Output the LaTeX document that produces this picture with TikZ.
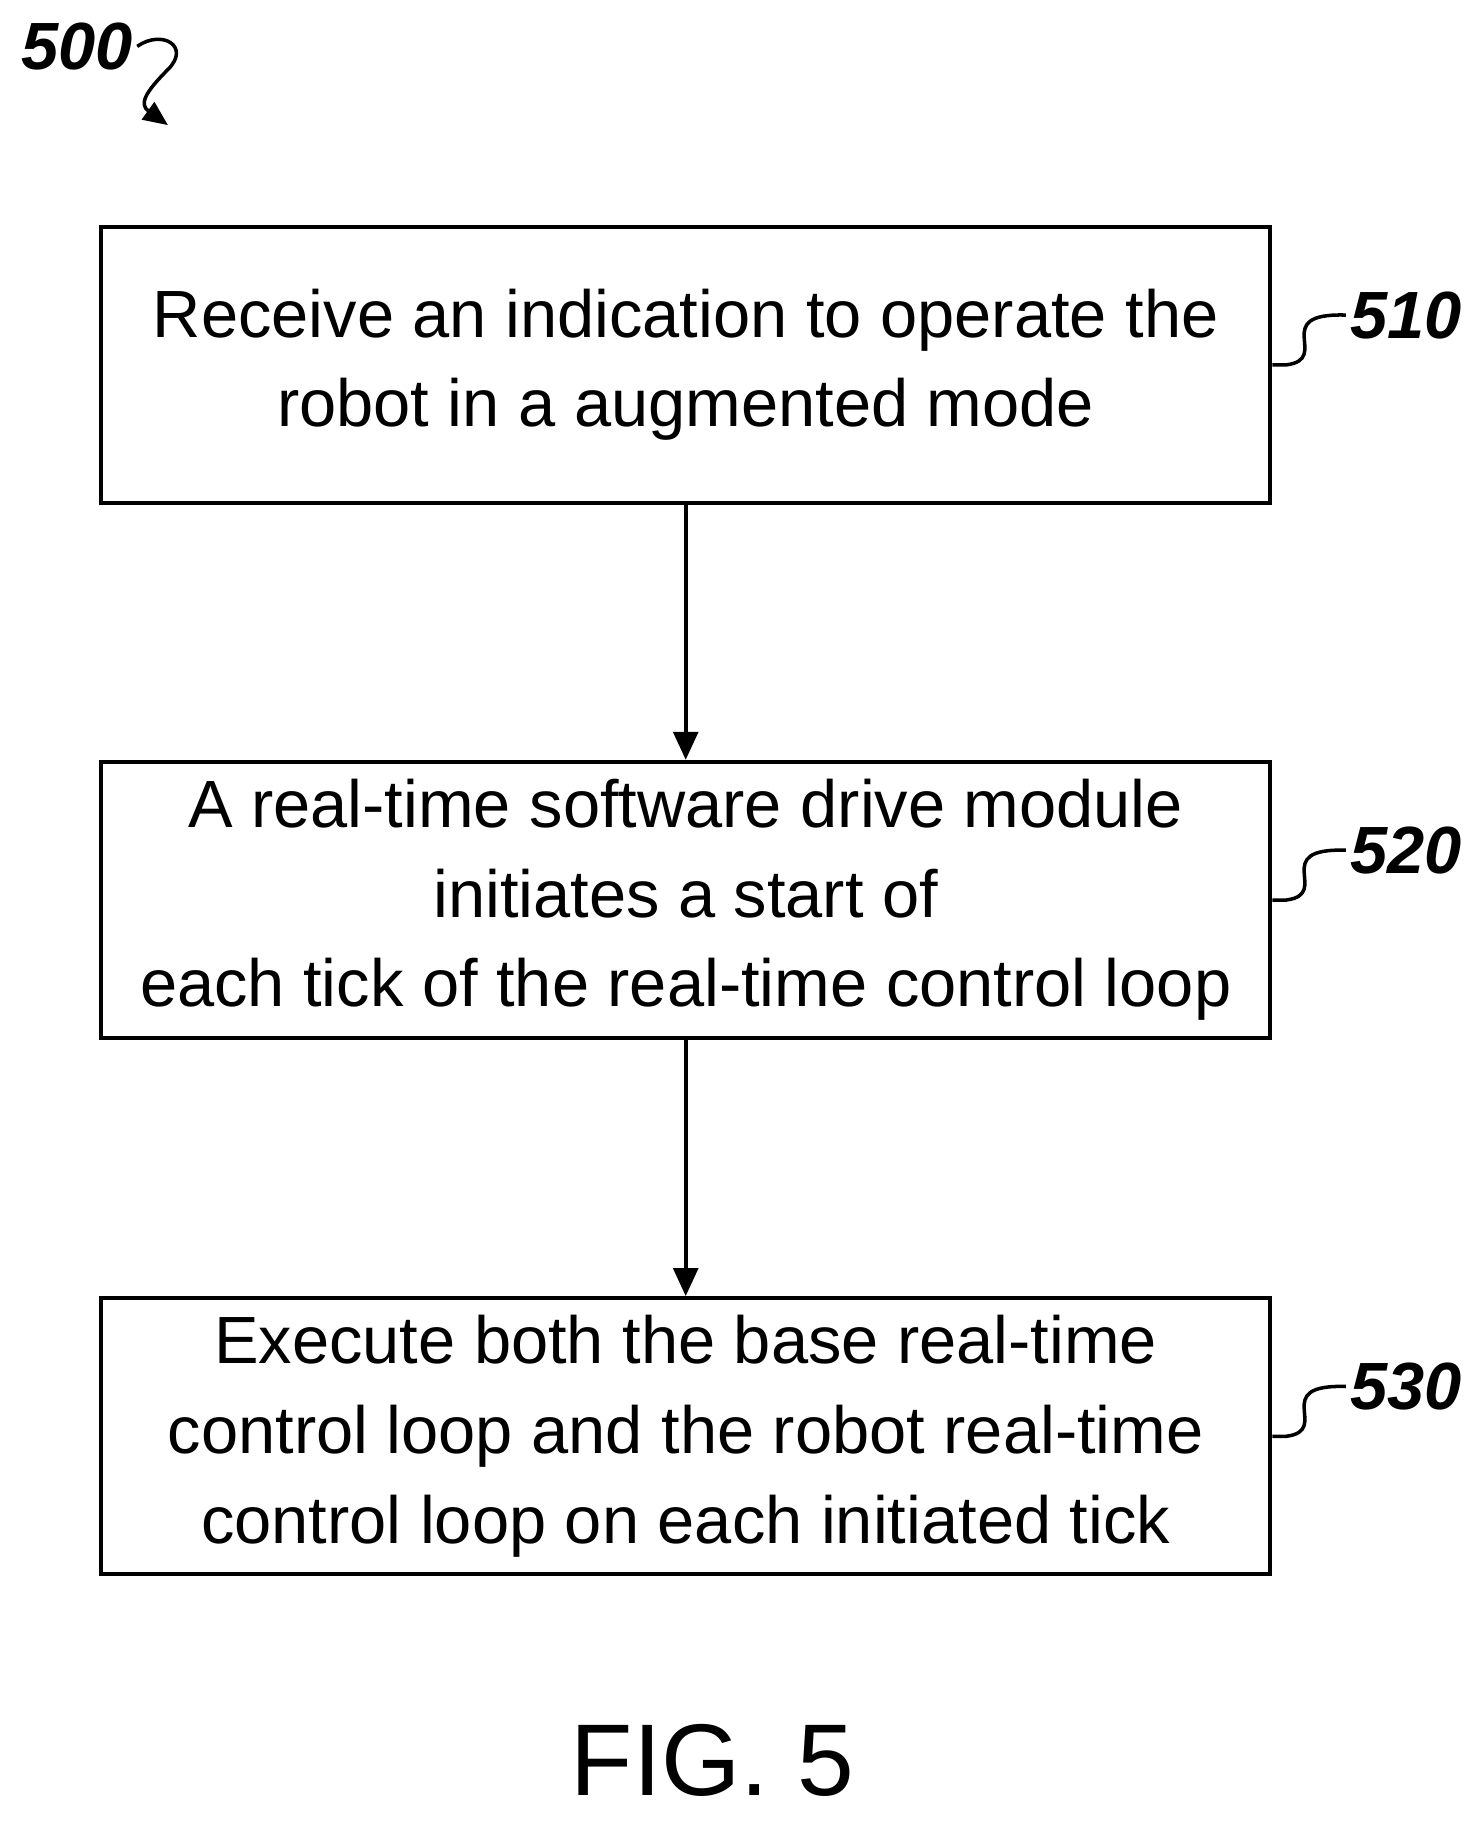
\documentclass[tikz,border=0pt]{standalone}
\usepackage{fontspec}
\setmainfont{Liberation Sans}
\usetikzlibrary{positioning, arrows.meta}
\tikzset{
    stage/.style = {rectangle, draw=black, line width=1.2pt, minimum width=11.69cm,
        minimum height=2.76cm, align=center, font=\fontsize{19}{25.5}\selectfont},
    ref/.style = {font=\fontsize{19}{21}\selectfont\bfseries\itshape, anchor=west, inner sep=1pt},
    flow/.style = {-{Triangle[length=8pt,width=7pt]}, line width=1.2pt},
}
\begin{document}
\begin{tikzpicture}[x=0.011586cm, y=-0.011586cm]
    \useasboundingbox (0,0) rectangle (1280,1573);

    %% Steps
    \node (s510) [stage] at (592,315) {Receive an indication to operate the\\robot in a augmented mode};
    \node (s520) [stage] at (592,777) {A real-time software drive module\\initiates a start of\\each tick of the real-time control loop};
    \node (s530) [stage] at (592,1240) {Execute both the base real-time\\control loop and the robot real-time\\control loop on each initiated tick};

    \draw[flow] (s510) -- (s520);
    \draw[flow] (s520) -- (s530);

    %% Reference numerals
    \foreach \n/\y in {510/315, 520/777, 530/1240} {
        \coordinate (t\n) at (1162,\y-43);
        \node [ref] at (t\n) {\n};
        \draw[line width=1pt] (s\n.east) -- ++(12,0) .. controls (1150,\y-5) and (1095,\y-45) .. (t\n);
    }

    %% Figure number
    \node (fig) [ref, anchor=west] at (15,40) {500};
    \coordinate (tip) at (145,108);
    \draw[line width=1pt, -{Triangle[length=7pt,width=6pt]}] (fig.east) .. controls (140,25) and (165,40) .. (145,60) .. controls (125,80) and (120,90) .. (tip);
    \node (title) [font=\fontsize{29}{31}\selectfont] at (615,1520) {FIG. 5};
\end{tikzpicture}
\end{document}
